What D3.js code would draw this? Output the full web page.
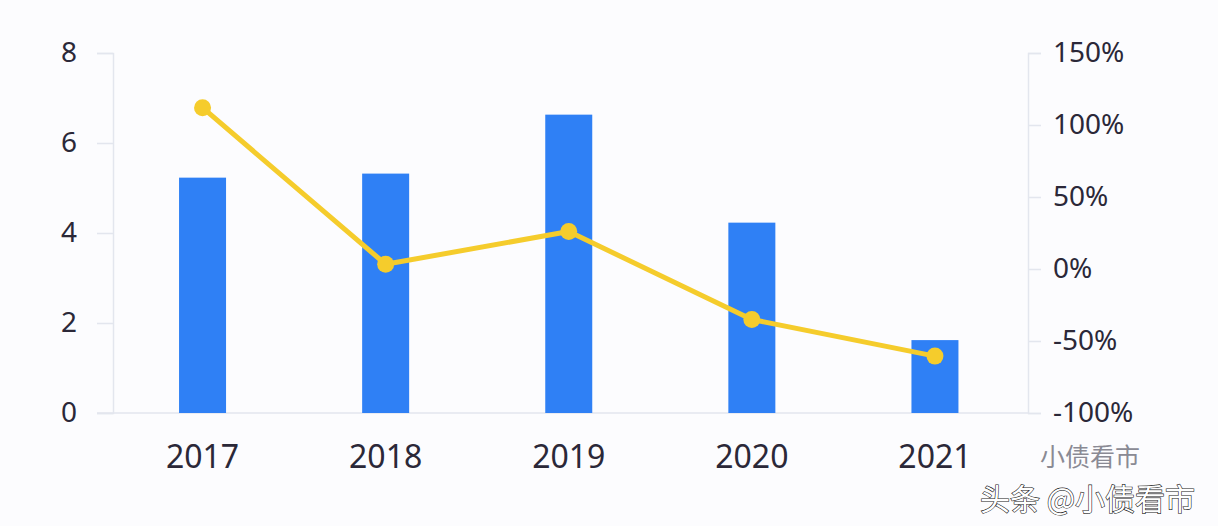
<!DOCTYPE html>
<html>
<head>
<meta charset="utf-8">
<script src="https://cdn.jsdelivr.net/npm/d3@7"></script>
<style>
  body { margin: 0; background: #fcfcfe; }
  svg { display: block; }
</style>
</head>
<body>
<script>
const years = ["2017", "2018", "2019", "2020", "2021"];
const amounts = [5.23, 5.32, 6.63, 4.23, 1.62];
const growth = [112, 3.3, 26, -35, -60.5];
const leftTicks = [0, 2, 4, 6, 8];
const rightTicks = [-100, -50, 0, 50, 100, 150];

const width = 1218, height = 526;
const margin = { top: 53, right: 190, bottom: 113, left: 113 };

const svg = d3.select("body").append("svg")
  .attr("width", width)
  .attr("height", height);

svg.append("rect").attr("width", width).attr("height", height).attr("fill", "#fcfcfe");

// categories sit slightly left of the axis frame in the original
const x = d3.scaleBand()
  .domain(years)
  .range([111, 1026.5])
  .padding(0);

const yLeft = d3.scaleLinear().domain([0, 8]).range([height - margin.bottom, margin.top]);
const yRight = d3.scaleLinear().domain([-100, 150]).range([height - margin.bottom, margin.top]);

const axisColor = "#e3e6ee";
const textColor = "#2b2838";
const font = "'Noto Sans', 'Open Sans', sans-serif";

// left axis
const gl = svg.append("g")
  .attr("transform", "translate(" + margin.left + ",0)")
  .call(d3.axisLeft(yLeft).tickValues(leftTicks).tickSize(16).tickPadding(20));
gl.select(".domain").attr("stroke", axisColor).attr("stroke-width", 1.5);
gl.selectAll(".tick line").attr("stroke", axisColor).attr("stroke-width", 1.5);
gl.selectAll(".tick text")
  .attr("fill", textColor)
  .attr("font-family", font)
  .attr("font-size", 28);

// right axis
const gr = svg.append("g")
  .attr("transform", "translate(" + (width - margin.right) + ",0)")
  .call(d3.axisRight(yRight).tickValues(rightTicks).tickSize(13).tickPadding(12)
    .tickFormat(function (d) { return d + "%"; }));
gr.select(".domain").attr("stroke", axisColor).attr("stroke-width", 1.5);
gr.selectAll(".tick line").attr("stroke", axisColor).attr("stroke-width", 1.5);
gr.selectAll(".tick text")
  .attr("fill", textColor)
  .attr("font-family", font)
  .attr("font-size", 28);

// baseline
svg.append("line")
  .attr("x1", margin.left - 16)
  .attr("x2", width - margin.right)
  .attr("y1", yLeft(0))
  .attr("y2", yLeft(0))
  .attr("stroke", axisColor)
  .attr("stroke-width", 1.5);

// x labels
svg.append("g").selectAll("text")
  .data(years)
  .enter()
  .append("text")
  .attr("x", function (d) { return x(d) + x.bandwidth() / 2; })
  .attr("y", 468)
  .attr("text-anchor", "middle")
  .attr("fill", textColor)
  .attr("font-family", font)
  .attr("font-size", 32)
  .text(function (d) { return d; });

// bars
const barW = 47;
svg.append("g").selectAll("rect")
  .data(amounts)
  .enter()
  .append("rect")
  .attr("x", function (d, i) { return x(years[i]) + x.bandwidth() / 2 - barW / 2; })
  .attr("y", function (d) { return yLeft(d); })
  .attr("width", barW)
  .attr("height", function (d) { return yLeft(0) - yLeft(d); })
  .attr("fill", "#2f80f5");

// line
const line = d3.line()
  .x(function (d, i) { return x(years[i]) + x.bandwidth() / 2; })
  .y(function (d) { return yRight(d); });

svg.append("path")
  .datum(growth)
  .attr("d", line)
  .attr("fill", "none")
  .attr("stroke", "#f5cc2c")
  .attr("stroke-width", 5)
  .attr("stroke-linejoin", "round");

svg.append("g").selectAll("circle")
  .data(growth)
  .enter()
  .append("circle")
  .attr("cx", function (d, i) { return x(years[i]) + x.bandwidth() / 2; })
  .attr("cy", function (d) { return yRight(d); })
  .attr("r", 8.5)
  .attr("fill", "#f5cc2c");

// watermark
svg.append("text")
  .attr("x", 1040)
  .attr("y", 466)
  .attr("fill", "#8a8a94")
  .attr("font-family", "'Noto Sans CJK SC', sans-serif")
  .attr("font-size", 25)
  .text("小债看市");

svg.append("text")
  .attr("x", 980)
  .attr("y", 510)
  .attr("fill", "#ffffff")
  .attr("stroke", "#222")
  .attr("stroke-width", 1.2)
  .attr("paint-order", "stroke")
  .attr("font-family", "'Noto Sans CJK SC', sans-serif")
  .attr("font-size", 30)
  .text("头条 @小债看市");
</script>
</body>
</html>
